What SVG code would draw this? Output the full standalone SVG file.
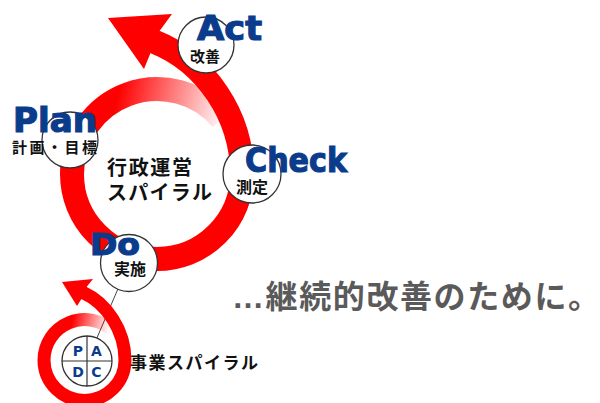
<svg xmlns="http://www.w3.org/2000/svg" width="600" height="403" viewBox="0 0 600 403">
<defs>
<linearGradient id="gMain" gradientUnits="userSpaceOnUse" x1="226" y1="120" x2="118" y2="95">
<stop offset="0" stop-color="#ff0000" stop-opacity="0"/>
<stop offset="1" stop-color="#ff0000" stop-opacity="1"/>
</linearGradient>
<linearGradient id="gSmall" gradientUnits="userSpaceOnUse" x1="109" y1="330" x2="72" y2="322">
<stop offset="0" stop-color="#ff0000" stop-opacity="0"/>
<stop offset="1" stop-color="#ff0000" stop-opacity="1"/>
</linearGradient>
<style>
.ring{fill:none;stroke:#ff0000;stroke-width:24}
.ring2{fill:none;stroke:#ff0000;stroke-width:13}
.head{fill:#ff0000}
.node{fill:#fff;stroke:#333;stroke-width:1.3}
.en{font-family:"DejaVu Sans","Liberation Sans",sans-serif;font-weight:bold;fill:#0b3c8c;stroke:#0b3c8c;stroke-width:1.2}
.pd{font-family:"DejaVu Sans","Liberation Sans",sans-serif;font-weight:bold;fill:#0b3c8c}
.jp{font-family:"Noto Sans CJK JP",sans-serif;font-weight:bold;fill:#111}
.conn{stroke:#444;stroke-width:1;fill:none}
</style>
</defs>
<rect width="600" height="403" fill="#fff"/>

<g id="connectors">
<line class="conn" x1="117.8" y1="289.2" x2="96.9" y2="338"/>
</g>

<g id="main-spiral">
<path d="M222.1,119.4 A85 85 0 0 0 72,174" fill="none" stroke="url(#gMain)" stroke-width="24"/>
<path class="ring" d="M72,174 A85 85 0 0 0 242,174 C242,115 205,62 155,42"/>
<polygon class="head" points="108,18 172,14 159.5,30.9 164,44 150.5,53.1 144,69"/>
</g>

<g id="small-spiral">
<path d="M113.1,331.4 A40.5 40.5 0 0 0 44,360" fill="none" stroke="url(#gSmall)" stroke-width="13"/>
<path class="ring2" d="M44,360 A40.5 40.5 0 0 0 125,360 C125,330 106,303 84,293"/>
<polygon class="head" points="62,282 93,279 86.9,286.6 88.5,295 81.1,299.4 77,306"/>
</g>

<g id="node-act">
<circle class="node" cx="206" cy="45" r="28"/>
<text class="en" x="197" y="40" font-size="34" textLength="65" lengthAdjust="spacingAndGlyphs">Act</text>
<text class="jp" x="205" y="62" font-size="15" text-anchor="middle">改善</text>
</g>

<g id="node-plan">
<circle class="node" cx="70" cy="140" r="28"/>
<text class="en" x="13" y="132" font-size="34" textLength="84" lengthAdjust="spacingAndGlyphs">Plan</text>
<text class="jp" x="12" y="153" font-size="15" textLength="85" lengthAdjust="spacing">計画・目標</text>
</g>

<g id="node-check">
<circle class="node" cx="252" cy="174" r="29"/>
<text class="en" x="245" y="172" font-size="34" textLength="102" lengthAdjust="spacingAndGlyphs">Check</text>
<text class="jp" x="236" y="193" font-size="16">測定</text>
</g>

<g id="node-do">
<circle class="node" cx="129" cy="263" r="28.5"/>
<text class="en" x="90" y="255" font-size="31" textLength="50" lengthAdjust="spacingAndGlyphs">Do</text>
<text class="jp" x="114" y="275" font-size="16">実施</text>
</g>

<g id="center-label">
<text class="jp" x="107" y="175" font-size="20" textLength="85" lengthAdjust="spacing">行政運営</text>
<text class="jp" x="107" y="200" font-size="20" textLength="105" lengthAdjust="spacing">スパイラル</text>
</g>

<g id="node-padc">
<circle class="node" cx="87" cy="361" r="25"/>
<line x1="87" y1="336" x2="87" y2="386" stroke="#333" stroke-width="1.2"/>
<line x1="62" y1="361" x2="112" y2="361" stroke="#333" stroke-width="1.2"/>
<text class="pd" font-size="14" text-anchor="middle" x="78" y="356">P</text>
<text class="pd" font-size="14" text-anchor="middle" x="96.5" y="356">A</text>
<text class="pd" font-size="14" text-anchor="middle" x="78" y="377">D</text>
<text class="pd" font-size="14" text-anchor="middle" x="96.5" y="377">C</text>
</g>

<g id="label-business">
<text class="jp" x="130" y="369" font-size="17" textLength="128" lengthAdjust="spacing">事業スパイラル</text>
</g>

<g id="tagline">
<text x="232" y="308" font-size="32" font-weight="bold" fill="#5a5a5a" font-family="'Liberation Sans','Noto Sans CJK JP',sans-serif" textLength="368" lengthAdjust="spacing">…継続的改善のために。</text>
</g>
</svg>
